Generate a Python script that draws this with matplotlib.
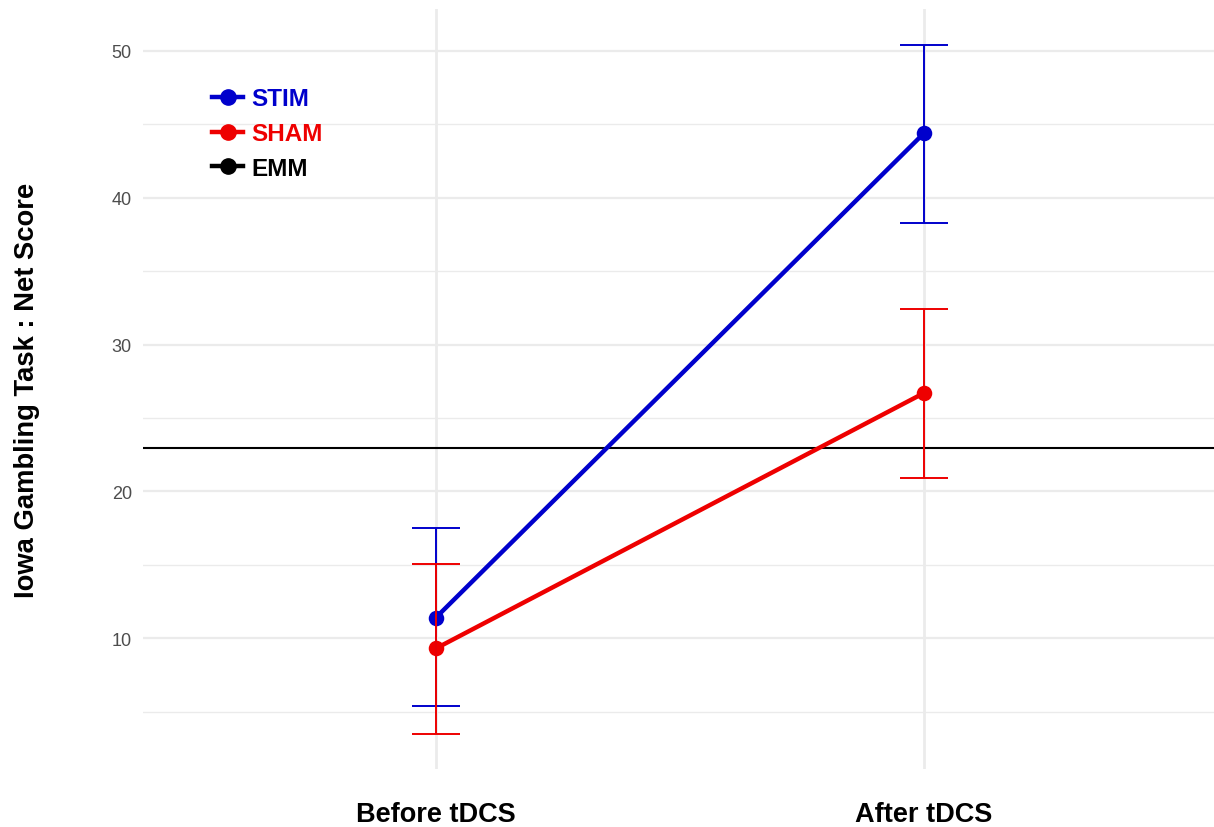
import matplotlib
matplotlib.use("Agg")
import matplotlib.pyplot as plt
from matplotlib.lines import Line2D

# data
phases = ["Before tDCS", "After tDCS"]
stim_mean = [11.4, 44.4]
stim_low = [5.35, 38.3]
stim_high = [17.5, 50.4]
sham_mean = [9.3, 26.7]
sham_low = [3.5, 20.9]
sham_high = [15.05, 32.45]
emm = 22.95

y_major = [10, 20, 30, 40, 50]
y_minor = [5, 15, 25, 35, 45]

STIM_COL = "#0000CC"
SHAM_COL = "#EE0000"

plt.rcParams["font.family"] = ["Liberation Sans", "DejaVu Sans"]

W, H = 1214, 828
fig = plt.figure(figsize=(W / 100, H / 100), dpi=100)
ax = fig.add_axes([143 / W, (H - 770) / H, (W - 143) / W, 760 / H])

xs = [1, 2]

# grid
for v in y_major:
    ax.axhline(v, color="#EBEBEB", lw=1.6, zorder=0)
for v in y_minor:
    ax.axhline(v, color="#EBEBEB", lw=1.0, zorder=0)
for v in xs:
    ax.axvline(v, color="#EBEBEB", lw=2.0, zorder=0)

ax.axhline(emm, color="black", lw=1.5, zorder=1)

ax.plot(xs, stim_mean, color=STIM_COL, lw=3.2, zorder=3)
ax.plot(xs, sham_mean, color=SHAM_COL, lw=3.2, zorder=3)
ax.scatter(xs, stim_mean, s=125, color=STIM_COL, zorder=4, linewidths=0)
ax.scatter(xs, sham_mean, s=125, color=SHAM_COL, zorder=4, linewidths=0)

for mean, lo, hi, col in [(stim_mean, stim_low, stim_high, STIM_COL),
                          (sham_mean, sham_low, sham_high, SHAM_COL)]:
    yerr = [[m - l for m, l in zip(mean, lo)], [h - m for m, h in zip(mean, hi)]]
    ax.errorbar(xs, mean, yerr=yerr, fmt="none", ecolor=col, elinewidth=1.4,
                capsize=17.5, capthick=1.4, zorder=5)

ax.set_xlim(0.4, 1 + (W - 436) / 488)
ax.set_ylim(1.09, 52.86)
ax.set_xticks(xs)
ax.set_xticklabels(phases, fontsize=19.5, fontweight="bold", color="black")
ax.set_yticks(y_major)
ax.set_yticklabels([str(v) for v in y_major], fontsize=13, color="#4D4D4D")
ax.tick_params(axis="x", length=0, pad=23)
ax.tick_params(axis="y", length=0, pad=8)
for s in ax.spines.values():
    s.set_visible(False)

ax.set_ylabel("Iowa Gambling Task : Net Score", fontsize=19.7, fontweight="bold",
              labelpad=52)

handles = [Line2D([], [], color=c, lw=3.2, marker="o", markersize=11)
           for c in (STIM_COL, SHAM_COL, "black")]
leg = ax.legend(handles, ["STIM", "SHAM", "EMM"], loc="upper left",
                bbox_to_anchor=(0.0444, 0.9255), frameon=False, handlelength=1.27,
                handletextpad=0.34, labelspacing=0.48,
                prop={"size": 17.5, "weight": "bold"})
for t, c in zip(leg.get_texts(), (STIM_COL, SHAM_COL, "black")):
    t.set_color(c)

fig.savefig("out.png", dpi=100)
